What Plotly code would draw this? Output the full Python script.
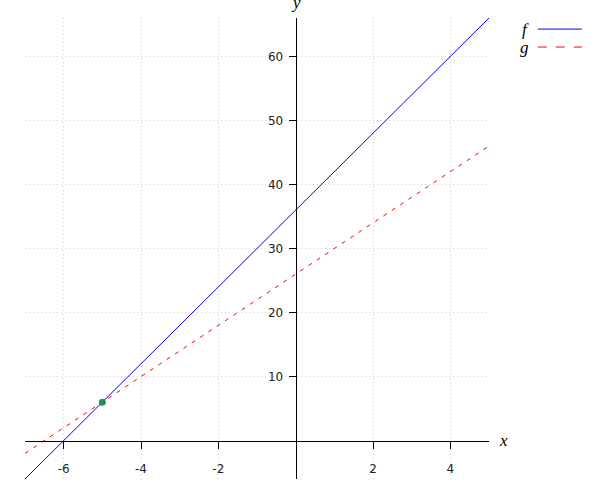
import plotly.graph_objects as go

# Data
x_range = [-7, 5]
y_range = [-6, 66]
x_ends = [-7, 5]
f_vals = [-6, 66]
g_vals = [-2, 46]
point_x = [-5]
point_y = [6]
x_ticks = [-6, -4, -2, 2, 4]
y_ticks = [10, 20, 30, 40, 50, 60]

fig = go.Figure()
fig.add_trace(go.Scatter(x=x_ends, y=f_vals, mode="lines",
                         line=dict(color="#0000ff", width=1), name="f", showlegend=False))
fig.add_trace(go.Scatter(x=x_ends, y=g_vals, mode="lines",
                         line=dict(color="#ff0000", width=1, dash="4px,6px"), name="g", showlegend=False))
fig.add_trace(go.Scatter(x=point_x, y=point_y, mode="markers",
                         marker=dict(color="#2e8b57", size=7), showlegend=False))

xpos = (0 - y_range[0]) / (y_range[1] - y_range[0])
ypos = (0 - x_range[0]) / (x_range[1] - x_range[0])

tickfont = dict(family="DejaVu Sans", size=12, color="#222222")
fig.update_layout(
    width=600, height=500,
    margin=dict(l=25, r=111, t=18, b=21),
    paper_bgcolor="white", plot_bgcolor="white",
    xaxis=dict(range=x_range, tickvals=x_ticks, ticktext=[str(v) for v in x_ticks],
               anchor="free", position=xpos, showline=True, linecolor="black", linewidth=1,
               ticks="outside", ticklen=7, tickcolor="black", tickfont=tickfont,
               ticklabelstandoff=10,
               showgrid=True, gridcolor="#cccccc", griddash="1px,3px", gridwidth=1,
               zeroline=False),
    yaxis=dict(range=y_range, tickvals=y_ticks, ticktext=[str(v) for v in y_ticks],
               anchor="free", position=ypos, showline=True, linecolor="black", linewidth=1,
               ticks="outside", ticklen=7, tickcolor="black", tickfont=tickfont,
               ticklabelstandoff=3,
               showgrid=True, gridcolor="#cccccc", griddash="1px,3px", gridwidth=1,
               zeroline=False),
    showlegend=False,
    hovermode=False,
)

serif = dict(family="Liberation Serif", size=17, color="black")
fig.add_annotation(text="<i>x</i>", xref="paper", yref="y", x=1, y=0,
                   xanchor="left", yanchor="middle", xshift=8, showarrow=False, font=serif)
fig.add_annotation(text="<i>y</i>", xref="x", yref="paper", x=0, y=1,
                   xanchor="center", yanchor="bottom", yshift=4, showarrow=False, font=serif)

# Manual legend (text left of line sample)
for i, (name, color, dash) in enumerate([("f", "#0000ff", "solid"), ("g", "#ff0000", "dash")]):
    yy = 0.976 - i * 0.039
    fig.add_annotation(text=f"<i>{name}</i>", xref="paper", yref="paper", x=1.09, y=yy,
                       xanchor="right", yanchor="middle", showarrow=False, font=serif)
    fig.add_shape(type="line", xref="paper", yref="paper", x0=1.105, x1=1.2, y0=yy, y1=yy,
                  line=dict(color=color, width=1, dash=dash))

fig.write_html("out.html", config={"displayModeBar": False},
               post_script="document.body.style.margin='0';")
